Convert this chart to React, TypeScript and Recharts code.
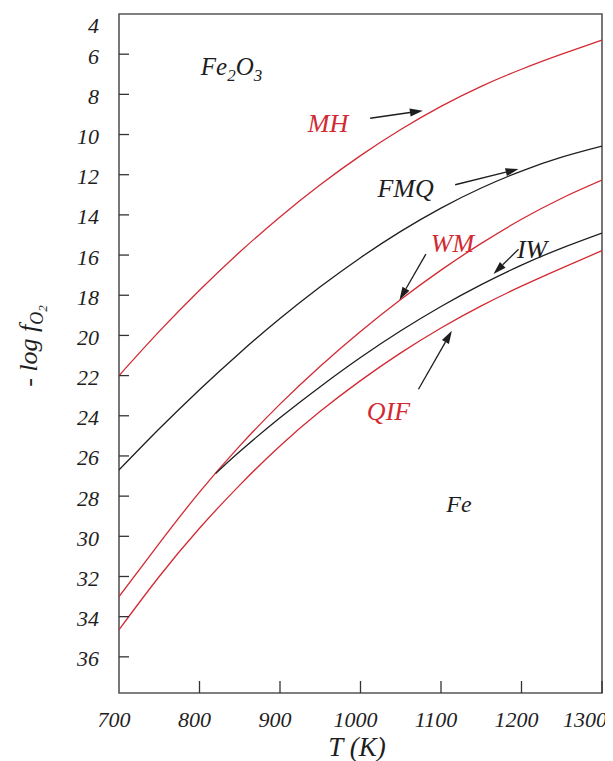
import { LineChart, Line, XAxis, YAxis, ReferenceArea, ReferenceLine, ReferenceDot } from 'recharts';

const RED = '#d22a33';
const INK = '#1e1e1e';
const FONT = '"Liberation Serif", "DejaVu Serif", serif';

const TEMPS = [700, 750, 800, 850, 900, 950, 1000, 1050, 1100, 1150, 1200, 1250, 1300];
const MH = [22.0, 19.8, 17.75, 15.85, 14.1, 12.5, 11.05, 9.75, 8.6, 7.6, 6.75, 6.0, 5.3];
const FMQ = [26.7, 24.65, 22.7, 20.87, 19.16, 17.58, 16.13, 14.82, 13.66, 12.66, 11.82, 11.13, 10.58];
const WM = [33.0, 30.35, 27.8, 25.5, 23.42, 21.53, 19.8, 18.21, 16.75, 15.42, 14.22, 13.17, 12.27];
const QIF = [34.65, 32.0, 29.6, 27.45, 25.5, 23.78, 22.25, 20.87, 19.63, 18.53, 17.55, 16.65, 15.78];

// IW only starts where it leaves the WM curve
const IW_TEMPS = [820, 850, 900, 950, 1000, 1050, 1100, 1150, 1200, 1250, 1300];
const IW = [26.88, 25.78, 24.1, 22.55, 21.1, 19.77, 18.56, 17.47, 16.5, 15.65, 14.9];

const X_TICKS = [700, 800, 900, 1000, 1100, 1200, 1300];
const Y_TICKS = [4, 6, 8, 10, 12, 14, 16, 18, 20, 22, 24, 26, 28, 30, 32, 34, 36];

// curve names (left edge / baseline in data units)
const LABELS = [
    { text: 'MH', T: 934.6, v: 9.86, color: RED },
    { text: 'FMQ', T: 1021.1, v: 13.09, color: INK },
    { text: 'WM', T: 1087.4, v: 15.83, color: RED },
    { text: 'IW', T: 1194.3, v: 16.16, color: INK },
    { text: 'QIF', T: 1007.9, v: 24.21, color: RED },
    { text: 'Fe', T: 1106.5, v: 28.79, color: INK },
];

const ARROWS = [
    { T1: 1012.0, v1: 9.19, T2: 1077.5, v2: 8.81 },
    { T1: 1117.6, v1: 12.5, T2: 1196.3, v2: 11.72 },
    { T1: 1081.2, v1: 15.95, T2: 1048.4, v2: 18.24 },
    { T1: 1196.3, v1: 15.71, T2: 1165.2, v2: 16.94 },
    { T1: 1072.0, v1: 22.68, T2: 1113.5, v2: 19.77 },
];

const rows = TEMPS.map((T, i) => ({ T, MH: MH[i], FMQ: FMQ[i], WM: WM[i], QIF: QIF[i] }));
const iwRows = IW_TEMPS.map((T, i) => ({ T, IW: IW[i] }));

function YTick(props: any) {
    const { x, y, payload } = props;
    const v = payload.value;
    return (
        <g>
            {v !== 4 && <line x1={x} x2={x + 10} y1={y} y2={y} stroke="#333" strokeWidth={1.3} />}
            <text
                x={x - 20}
                y={y + (v === 4 ? 11 : 2)}
                textAnchor="end"
                dominantBaseline="central"
                fontFamily={FONT}
                fontStyle="italic"
                fontSize={22}
                fill={INK}
            >
                {v}
            </text>
        </g>
    );
}

function XTick(props: any) {
    const { x, y, payload } = props;
    const v = payload.value;
    const last = v === 1300;
    return (
        <g>
            {v !== 700 && <line x1={x} x2={x} y1={y} y2={y - 12} stroke="#333" strokeWidth={1.3} />}
            <text
                x={last ? x + 5 : x - 5}
                y={y + 34}
                textAnchor={last ? 'end' : 'middle'}
                fontFamily={FONT}
                fontStyle="italic"
                fontSize={22}
                fill={INK}
            >
                {v}
            </text>
        </g>
    );
}

function Arrow(props: any) {
    const { x1, y1, x2, y2 } = props;
    const a = Math.atan2(y2 - y1, x2 - x1);
    const c = Math.cos(a);
    const s = Math.sin(a);
    const bx = x2 - 13 * c;
    const by = y2 - 13 * s;
    return (
        <g>
            <line x1={x1} y1={y1} x2={bx} y2={by} stroke={INK} strokeWidth={1.3} />
            <polygon points={`${x2},${y2} ${bx + 4 * s},${by - 4 * c} ${bx - 4 * s},${by + 4 * c}`} fill={INK} />
        </g>
    );
}

export default function App() {
    return (
        <div style={{ position: 'relative', width: 605, height: 753 }}>
            <LineChart width={605} height={753} data={rows} margin={{ top: 6, right: 11, left: 0, bottom: 0 }}>
                <XAxis
                    dataKey="T"
                    type="number"
                    domain={[700, 1300]}
                    ticks={X_TICKS}
                    interval={0}
                    height={68}
                    axisLine={false}
                    tickLine={false}
                    tickSize={0}
                    tickMargin={0}
                    tick={<XTick />}
                    allowDataOverflow
                />
                <YAxis
                    type="number"
                    domain={[4, 37.8]}
                    ticks={Y_TICKS}
                    interval={0}
                    reversed
                    width={111}
                    axisLine={false}
                    tickLine={false}
                    tickSize={0}
                    tickMargin={0}
                    tick={<YTick />}
                    allowDataOverflow
                />
                <ReferenceArea x1={700} x2={1300} y1={4} y2={37.8} fill="none" stroke="#555" strokeWidth={1.6} ifOverflow="visible" />

                <Line dataKey="MH" type="natural" stroke={RED} strokeWidth={1.3} dot={false} isAnimationActive={false} />
                <Line dataKey="FMQ" type="natural" stroke={INK} strokeWidth={1.3} dot={false} isAnimationActive={false} />
                <Line dataKey="WM" type="natural" stroke={RED} strokeWidth={1.3} dot={false} isAnimationActive={false} />
                <Line data={iwRows} dataKey="IW" type="natural" stroke={INK} strokeWidth={1.3} dot={false} isAnimationActive={false} />
                <Line dataKey="QIF" type="natural" stroke={RED} strokeWidth={1.3} dot={false} isAnimationActive={false} />

                {ARROWS.map((a, i) => (
                    <ReferenceLine
                        key={'a' + i}
                        segment={[{ x: a.T1, y: a.v1 }, { x: a.T2, y: a.v2 }]}
                        shape={Arrow}
                        ifOverflow="visible"
                    />
                ))}

                {LABELS.map((l) => (
                    <ReferenceDot
                        key={l.text}
                        x={l.T}
                        y={l.v}
                        r={1}
                        ifOverflow="visible"
                        shape={(p: any) => (
                            <text x={p.cx} y={p.cy} fontFamily={FONT} fontStyle="italic" fontSize={l.text === 'Fe' ? 24 : 26} fill={l.color}>
                                {l.text}
                            </text>
                        )}
                    />
                ))}

                <ReferenceDot
                    x={801.6}
                    y={7.04}
                    r={1}
                    ifOverflow="visible"
                    shape={(p: any) => (
                        <text x={p.cx} y={p.cy} fontFamily={FONT} fontStyle="italic" fontSize={25} fill={INK}>
                            Fe
                            <tspan dy={6} fontSize={17}>2</tspan>
                            <tspan dy={-6}>O</tspan>
                            <tspan dy={6} fontSize={17}>3</tspan>
                        </text>
                    )}
                />
            </LineChart>

            {/* axis titles */}
            <svg width={605} height={753} style={{ position: 'absolute', left: 0, top: 0, pointerEvents: 'none' }}>
                <text x={349} y={748} textAnchor="middle" fontFamily={FONT} fontStyle="italic" fontSize={27} fill={INK}>
                    T (K)
                </text>
                <text
                    transform="translate(29,338) rotate(-90)"
                    textAnchor="middle"
                    fontFamily={FONT}
                    fontStyle="italic"
                    fontSize={26}
                    fill={INK}
                >
                    - log f
                    <tspan dy={6} fontSize={18}>O</tspan>
                    <tspan dy={4} fontSize={13}>2</tspan>
                </text>
            </svg>
        </div>
    );
}
